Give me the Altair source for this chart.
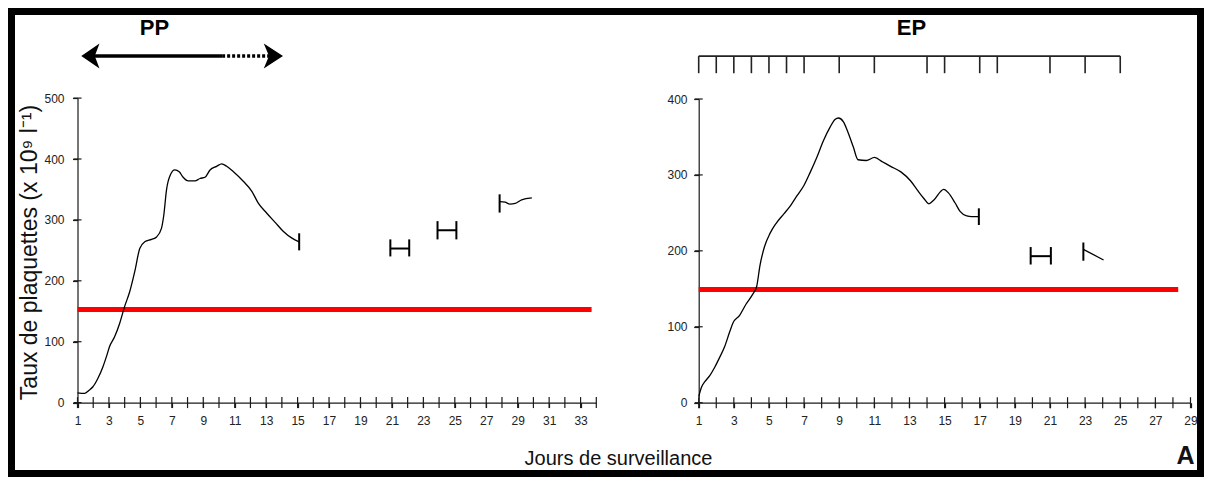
import altair as alt
import pandas as pd

# ---------------- values ----------------
# PP panel : continuous platelet curve (day, x10^9/l)
pp_days = [1.0, 1.45, 1.72, 1.98, 2.3, 2.62, 2.87, 3.04, 3.36, 3.68, 4.0, 4.32, 4.64, 4.96, 5.28,
           5.71, 6.03, 6.34, 6.49, 6.66, 6.91, 7.19, 7.47, 7.72, 8.04, 8.47, 8.79, 9.11, 9.43, 9.85,
           10.17, 10.49, 10.92, 11.56, 12.09, 12.51, 13.04, 13.57, 14.1, 14.64, 15.1]
pp_vals = [16, 15, 20, 26, 40, 59, 78, 92, 108, 130, 158, 182, 215, 253, 264,
           268, 272, 286, 308, 349, 374, 382, 379, 370, 364, 364, 368, 370, 382, 388,
           392, 388, 379, 363, 347, 327, 311, 296, 281, 270, 264]
pp_end_cap = [250, 278]
pp_bar_start = [20.9, 23.9]
pp_bar_end = [22.1, 25.1]
pp_bar_val = [253, 283]
pp_bar_lo = [240, 268]
pp_bar_hi = [268, 298]
pp_tail_days = [27.85, 28.2, 28.5, 28.85, 29.25, 29.9]
pp_tail_vals = [330, 329, 326, 327, 333, 336]
pp_tail_cap = [312, 342]
pp_threshold = 153
pp_threshold_end = 33.7
pp_arrow_solid = [1.82, 10.2]
pp_arrow_dotted = [10.2, 13.2]
pp_arrow_heads = [1.82, 13.46]
pp_arrow_level = 569

# EP panel
ep_days = [1.0, 1.17, 1.36, 1.64, 1.92, 2.2, 2.48, 2.76, 2.95, 3.33, 3.7, 4.08, 4.3, 4.49, 4.74,
           5.06, 5.4, 5.86, 6.24, 6.61, 6.99, 7.36, 7.74, 8.1, 8.48, 8.76, 8.96, 9.24, 9.52, 9.8,
           10.07, 10.54, 11.01, 11.48, 11.95, 12.51, 13.07, 13.45, 13.82, 14.1, 14.39, 14.95, 15.23,
           15.6, 15.88, 16.26, 16.54, 16.95]
ep_vals = [8, 21, 28, 36, 47, 60, 74, 93, 105, 115, 130, 143, 153, 181, 205,
           223, 236, 249, 260, 273, 286, 304, 324, 345, 363, 373, 375, 370, 355, 337,
           320, 319, 323, 317, 311, 304, 292, 280, 269, 262, 267, 281, 276,
           263, 252, 246, 245, 245]
ep_end_cap = [234, 256]
ep_bar_start = [19.9]
ep_bar_end = [21.05]
ep_bar_val = [193]
ep_bar_lo = [182]
ep_bar_hi = [205]
ep_tail_days = [22.9, 24.05]
ep_tail_vals = [202, 188]
ep_tail_cap = [187, 211]
ep_threshold = 149
ep_threshold_end = 28.3
ep_ruler_days = [1, 2, 3, 4, 5, 6, 7, 9, 11, 14, 15, 17, 18, 21, 23, 25]
ep_ruler_top = 456.5
ep_ruler_bottom = 434

pp_x_labels = list(range(1, 34, 2))
pp_x_ticks = list(range(1, 35))
pp_y_ticks = [0, 100, 200, 300, 400, 500]
ep_x_labels = list(range(1, 30, 2))
ep_x_ticks = list(range(1, 30))
ep_y_ticks = [0, 100, 200, 300, 400]

# ---------------- layout ----------------
FONT = "Liberation Sans"
W, H = 1196, 469
INK = "#1a1a1a"

XL = alt.Scale(domain=[1, 34], range=[69.5, 588.3], nice=False, zero=False)
YL = alt.Scale(domain=[0, 500], range=[394.6, 90.1], nice=False, zero=False)
XR = alt.Scale(domain=[1, 29], range=[690.7, 1182.5], nice=False, zero=False)
YR = alt.Scale(domain=[0, 400], range=[394.7, 91.0], nice=False, zero=False)


def xq(f, s, axis=None):
    return alt.X(f"{f}:Q", scale=s, axis=axis)


def yq(f, s, axis=None):
    return alt.Y(f"{f}:Q", scale=s, axis=axis)


common_axis = dict(domainColor=INK, domainWidth=1.2, ticks=True, tickSize=5, tickColor=INK,
                   tickWidth=1.2, labelFont=FONT, labelFontSize=12, labelColor="#222",
                   labelFlush=False, labelOverlap=False, grid=False, format="d",
                   titleFont=FONT, titleColor="#111")

axL_x = alt.Axis(orient="bottom", offset=-(H - 394.6), values=pp_x_labels, labelPadding=8,
                 title="Jours de surveillance", titleFontSize=20, titleFontWeight="normal",
                 titleX=610, titleY=55.4, titleAlign="center", titleBaseline="middle",
                 titleAngle=0, **common_axis)
axL_y = alt.Axis(orient="left", offset=-69.5, values=pp_y_ticks, labelPadding=8.5,
                 title="Taux de plaquettes (x 10⁹ l⁻¹)", titleFontSize=23,
                 titleFontWeight="normal", titleX=-48, titleY=244, titleAngle=270,
                 titleAlign="center", titleBaseline="middle", **common_axis)
axR_x = alt.Axis(orient="bottom", offset=-(H - 394.7), values=ep_x_labels, labelPadding=8,
                 title="A", titleFontSize=25, titleFontWeight="bold",
                 titleX=1177, titleY=52.3, titleAlign="center", titleBaseline="middle",
                 titleAngle=0, **common_axis)
axR_y = alt.Axis(orient="left", offset=-690.7, values=ep_y_ticks, labelPadding=6.7,
                 title=None, **common_axis)
top_title = dict(orient="top", domain=False, ticks=False, labels=False, grid=False,
                 titleFont=FONT, titleFontSize=22, titleFontWeight="bold", titleColor="#000",
                 titleY=19, titleAlign="center", titleBaseline="middle", titleAngle=0)
axL_top = alt.Axis(title="PP", titleX=146, **top_title)
axR_top = alt.Axis(title="EP", titleX=903, **top_title)

LEFT_HEAD = "M-0.73,0L0.73,-1L0.35,0L0.73,1Z"
RIGHT_HEAD = "M0.77,0L-0.77,-1L-0.35,0L-0.77,1Z"


def panel(X, Y, days, vals, end_cap, b_s, b_e, b_v, b_lo, b_hi, t_d, t_v, t_cap,
          thr, thr_end, x_ticks, y_ticks, ax_x, ax_y):
    layers = []
    red = pd.DataFrame({"d": [1], "e": [thr_end], "v": [thr]})
    layers.append(alt.Chart(red).mark_rule(color="#ff0000", strokeWidth=5).encode(
        x=xq("d", X), x2="e:Q", y=yq("v", Y)))
    curve = pd.DataFrame({"d": days, "v": vals})
    layers.append(alt.Chart(curve).mark_line(color="black", strokeWidth=1.3,
                                             interpolate="monotone").encode(
        x=xq("d", X, ax_x), y=yq("v", Y, ax_y)))
    cap = pd.DataFrame({"d": [days[-1]], "lo": [end_cap[0]], "hi": [end_cap[1]]})
    layers.append(alt.Chart(cap).mark_rule(color="black", strokeWidth=2).encode(
        x=xq("d", X), y=yq("lo", Y), y2="hi:Q"))
    bars = pd.DataFrame({"s": b_s, "e": b_e, "v": b_v})
    layers.append(alt.Chart(bars).mark_rule(color="black", strokeWidth=2).encode(
        x=xq("s", X), x2="e:Q", y=yq("v", Y)))
    caps = pd.DataFrame({"d": b_s + b_e, "lo": b_lo + b_lo, "hi": b_hi + b_hi})
    layers.append(alt.Chart(caps).mark_rule(color="black", strokeWidth=2).encode(
        x=xq("d", X), y=yq("lo", Y), y2="hi:Q"))
    tail = pd.DataFrame({"d": t_d, "v": t_v})
    layers.append(alt.Chart(tail).mark_line(color="black", strokeWidth=1.3,
                                            interpolate="monotone").encode(
        x=xq("d", X), y=yq("v", Y)))
    tcap = pd.DataFrame({"d": [t_d[0]], "lo": [t_cap[0]], "hi": [t_cap[1]]})
    layers.append(alt.Chart(tcap).mark_rule(color="black", strokeWidth=2).encode(
        x=xq("d", X), y=yq("lo", Y), y2="hi:Q"))
    xt = pd.DataFrame({"d": x_ticks, "v": [0] * len(x_ticks)})
    layers.append(alt.Chart(xt).mark_tick(orient="vertical", size=11, thickness=1.2,
                                          color=INK, opacity=1).encode(
        x=xq("d", X), y=yq("v", Y)))
    yt = pd.DataFrame({"d": [1] * len(y_ticks), "v": y_ticks})
    layers.append(alt.Chart(yt).mark_tick(orient="horizontal", size=8, thickness=1.2,
                                          color=INK, opacity=1).encode(
        x=xq("d", X), y=yq("v", Y)))
    return layers


left = panel(XL, YL, pp_days, pp_vals, pp_end_cap, pp_bar_start, pp_bar_end, pp_bar_val,
             pp_bar_lo, pp_bar_hi, pp_tail_days, pp_tail_vals, pp_tail_cap, pp_threshold,
             pp_threshold_end, pp_x_ticks, pp_y_ticks, axL_x, axL_y)
right = panel(XR, YR, ep_days, ep_vals, ep_end_cap, ep_bar_start, ep_bar_end, ep_bar_val,
              ep_bar_lo, ep_bar_hi, ep_tail_days, ep_tail_vals, ep_tail_cap, ep_threshold,
              ep_threshold_end, ep_x_ticks, ep_y_ticks, axR_x, axR_y)

# PP arrow
solid = pd.DataFrame({"d": [pp_arrow_solid[0]], "e": [pp_arrow_solid[1]], "v": [pp_arrow_level]})
dotted = pd.DataFrame({"d": [pp_arrow_dotted[0]], "e": [pp_arrow_dotted[1]], "v": [pp_arrow_level]})
headL = pd.DataFrame({"d": [pp_arrow_heads[0]], "v": [pp_arrow_level]})
headR = pd.DataFrame({"d": [pp_arrow_heads[1]], "v": [pp_arrow_level]})
arrow = [
    alt.Chart(solid).mark_rule(color="black", strokeWidth=3.5).encode(
        x=xq("d", XL, axL_top), x2="e:Q", y=yq("v", YL)),
    alt.Chart(dotted).mark_rule(color="black", strokeWidth=3.5, strokeDash=[3, 2]).encode(
        x=xq("d", XL), x2="e:Q", y=yq("v", YL)),
    alt.Chart(headL).mark_point(shape=LEFT_HEAD, filled=True, size=625, color="black",
                                opacity=1, strokeWidth=0).encode(
        x=xq("d", XL), y=yq("v", YL)),
    alt.Chart(headR).mark_point(shape=RIGHT_HEAD, filled=True, size=625, color="black",
                                opacity=1, strokeWidth=0).encode(
        x=xq("d", XL), y=yq("v", YL)),
]

# EP ruler
ruler_line = pd.DataFrame({"d": [ep_ruler_days[0]], "e": [ep_ruler_days[-1]], "v": [ep_ruler_top]})
ruler_ticks = pd.DataFrame({"d": ep_ruler_days, "lo": [ep_ruler_bottom] * len(ep_ruler_days),
                            "hi": [ep_ruler_top] * len(ep_ruler_days)})
ruler = [
    alt.Chart(ruler_line).mark_rule(color="#222", strokeWidth=1.6).encode(
        x=xq("d", XR, axR_top), x2="e:Q", y=yq("v", YR)),
    alt.Chart(ruler_ticks).mark_rule(color="#222", strokeWidth=1.6).encode(
        x=xq("d", XR), y=yq("lo", YR), y2="hi:Q"),
]

chart = alt.layer(*(left + right + arrow + ruler)).resolve_scale(
    x="independent", y="independent"
).resolve_axis(
    x="independent", y="independent"
).properties(
    width=W, height=H, padding=0,
    autosize=alt.AutoSizeParams(type="none"),
    background="white",
).configure(
    font=FONT
).configure_view(
    stroke="black", strokeWidth=14
)

chart.save("out.html", embed_options={"renderer": "svg", "actions": False})
